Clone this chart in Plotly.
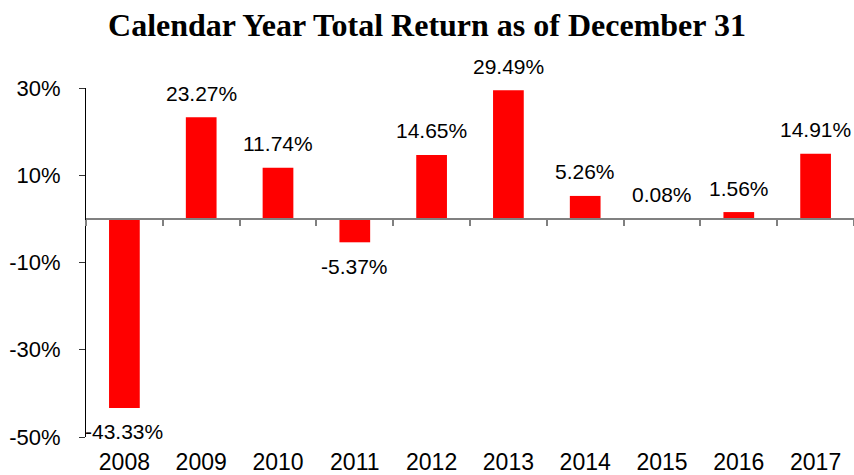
import plotly.graph_objects as go

years = ["2008", "2009", "2010", "2011", "2012", "2013", "2014", "2015", "2016", "2017"]
returns = [-43.33, 23.27, 11.74, -5.37, 14.65, 29.49, 5.26, 0.08, 1.56, 14.91]
labels = ["-43.33%", "23.27%", "11.74%", "-5.37%", "14.65%", "29.49%", "5.26%", "0.08%", "1.56%", "14.91%"]
y_ticks = [-50, -30, -10, 10, 30]
y_tick_text = ["-50%", "-30%", "-10%", "10%", "30%"]
y_min, y_max = -50, 30

fig = go.Figure()
fig.add_trace(go.Bar(x=years, y=returns, width=0.4, marker=dict(color="#FF0000", line=dict(width=0)),
                     hoverinfo="skip", showlegend=False))
fig.add_trace(go.Scatter(x=years, y=[0] * len(years), xaxis="x2", mode="none",
                         hoverinfo="skip", showlegend=False))

for i, (v, t) in enumerate(zip(returns, labels)):
    fig.add_annotation(x=i, y=v, text=t, showarrow=False, xref="x", yref="y",
                       yshift=24 if v >= 0 else -24, yanchor="middle", xanchor="center",
                       font=dict(family="Liberation Sans, Arial", size=21, color="#000000"))

zero_pos = (0 - y_min) / (y_max - y_min)

fig.update_layout(
    width=854, height=475,
    margin=dict(l=86, r=0, t=88, b=38),
    paper_bgcolor="white", plot_bgcolor="white",
    title=dict(text="<b>Calendar Year Total Return as of December 31</b>", xref="container", x=0.5,
               xanchor="center", yref="container", y=0.948, yanchor="middle",
               font=dict(family="Liberation Serif, Times New Roman", size=32, color="#000000")),
    xaxis=dict(type="category", categoryarray=years, range=[-0.5, 9.5], showline=False, ticks="",
               showgrid=False, zeroline=False, ticklabelstandoff=9,
               tickfont=dict(family="Liberation Sans, Arial", size=23, color="#000000")),
    xaxis2=dict(type="category", categoryarray=years, range=[-0.5, 9.5], overlaying="x",
                anchor="free", position=zero_pos, showline=True, linecolor="#808080", linewidth=2,
                ticks="outside", tickson="boundaries", ticklen=6, tickwidth=2, tickcolor="#808080",
                showticklabels=False, showgrid=False, zeroline=False),
    yaxis=dict(range=[y_min, y_max], tickmode="array", tickvals=y_ticks, ticktext=y_tick_text,
               showline=True, linecolor="#000000", linewidth=1, ticks="outside", ticklen=6,
               tickcolor="#333333", showgrid=False, zeroline=False, ticklabelstandoff=14,
               tickfont=dict(family="Liberation Sans, Arial", size=22, color="#000000")),
    bargap=0.6,
)

fig.write_html("out.html")
